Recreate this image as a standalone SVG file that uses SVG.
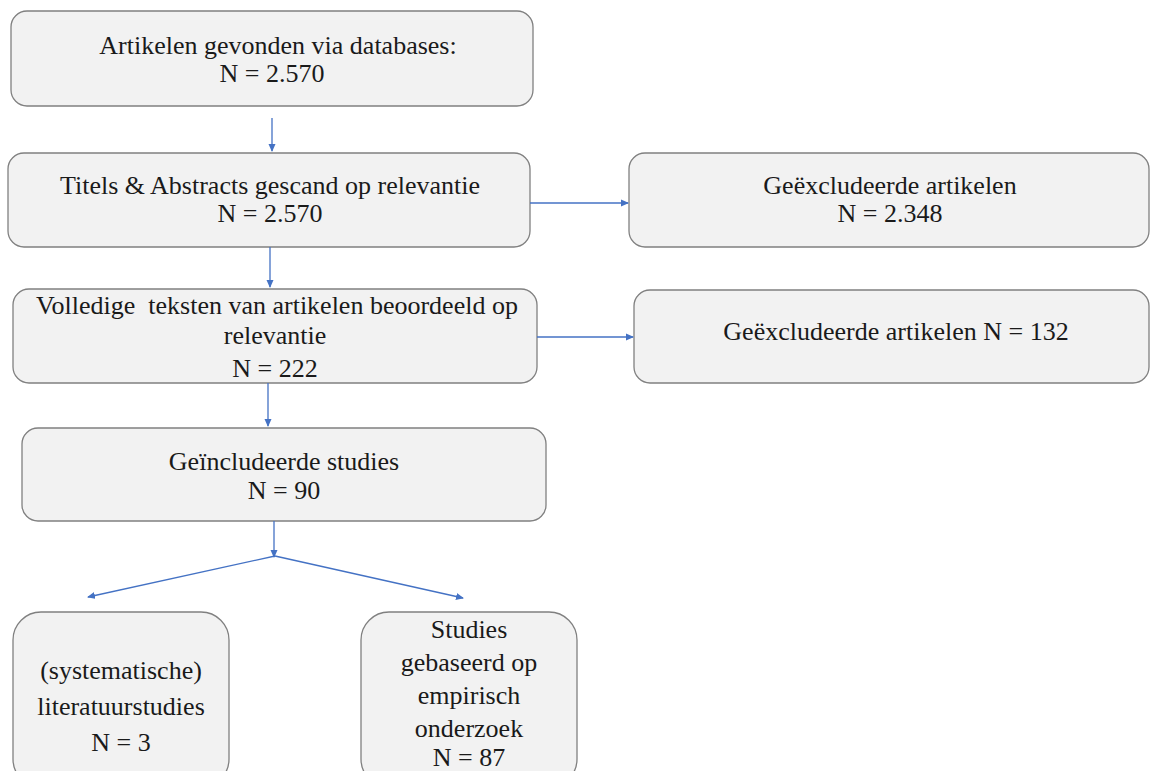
<svg xmlns="http://www.w3.org/2000/svg" width="1150" height="771" viewBox="0 0 1150 771">
<defs>
<marker id="ah" markerWidth="8" markerHeight="8" refX="7" refY="4" orient="auto" markerUnits="userSpaceOnUse">
<path d="M0,0.5 L8,4 L0,7.5 Z" fill="#4472c4"/>
</marker>
</defs>
<style>
.box{fill:#f2f2f2;stroke:#808080;stroke-width:1.3}
.t{fill:#1a1a1a;text-anchor:middle}
.c{stroke:#4472c4;stroke-width:1.3;fill:none;marker-end:url(#ah)}
</style>
<rect width="1150" height="771" fill="#ffffff"/>
<g id="n1"><rect class="box" x="11" y="11" width="522" height="95" rx="16"/>
<text class="t" style="font-family:'Liberation Serif';font-size:26px" x="278" y="54">Artikelen gevonden via databases:</text>
<text class="t" style="font-family:'Liberation Serif';font-size:26px" x="272" y="82">N = 2.570</text></g>
<g id="n2"><rect class="box" x="8" y="153" width="522" height="94" rx="16"/>
<text class="t" style="font-family:'Liberation Serif';font-size:26px" x="270" y="194">Titels &amp; Abstracts gescand op relevantie</text>
<text class="t" style="font-family:'Liberation Serif';font-size:26px" x="270" y="222">N = 2.570</text></g>
<g id="n3"><rect class="box" x="629" y="153" width="520" height="94" rx="16"/>
<text class="t" style="font-family:'Liberation Serif';font-size:26px" x="890" y="194">Geëxcludeerde artikelen</text>
<text class="t" style="font-family:'Liberation Serif';font-size:26px" x="890" y="222">N = 2.348</text></g>
<g id="n4"><rect class="box" x="13" y="289" width="524" height="94" rx="16"/>
<text class="t" style="font-family:'Liberation Serif';font-size:26px" x="277" y="314" xml:space="preserve">Volledige  teksten van artikelen beoordeeld op</text>
<text class="t" style="font-family:'Liberation Serif';font-size:26px" x="275" y="344">relevantie</text>
<text class="t" style="font-family:'Liberation Serif';font-size:26px" x="275" y="377">N = 222</text></g>
<g id="n5"><rect class="box" x="634" y="290" width="515" height="93" rx="16"/>
<text class="t" style="font-family:'Liberation Serif';font-size:26px" x="896" y="340">Geëxcludeerde artikelen N = 132</text></g>
<g id="n6"><rect class="box" x="22" y="428" width="524" height="93" rx="16"/>
<text class="t" style="font-family:'Liberation Serif';font-size:26px" x="284" y="470">Geïncludeerde studies</text>
<text class="t" style="font-family:'Liberation Serif';font-size:26px" x="284" y="499">N = 90</text></g>
<g id="n7"><rect class="box" x="13" y="612" width="216" height="175" rx="28"/>
<text class="t" style="font-family:'Liberation Serif';font-size:26px" x="121" y="679">(systematische)</text>
<text class="t" style="font-family:'Liberation Serif';font-size:26px" x="121" y="715">literatuurstudies</text>
<text class="t" style="font-family:'Liberation Serif';font-size:26px" x="121" y="751">N = 3</text></g>
<g id="n8"><rect class="box" x="361" y="612" width="216" height="175" rx="28"/>
<text class="t" style="font-family:'Liberation Serif';font-size:26px" x="469" y="638">Studies</text>
<text class="t" style="font-family:'Liberation Serif';font-size:26px" x="469" y="671">gebaseerd op</text>
<text class="t" style="font-family:'Liberation Serif';font-size:26px" x="469" y="704">empirisch</text>
<text class="t" style="font-family:'Liberation Serif';font-size:26px" x="469" y="737">onderzoek</text>
<text class="t" style="font-family:'Liberation Serif';font-size:26px" x="469" y="766">N = 87</text></g>
<g id="connectors">
<line class="c" x1="272" y1="118" x2="272" y2="151"/>
<line class="c" x1="530" y1="203" x2="628" y2="203"/>
<line class="c" x1="270" y1="247" x2="270" y2="287"/>
<line class="c" x1="537" y1="337" x2="633" y2="337"/>
<line class="c" x1="268" y1="383" x2="268" y2="426"/>
<line class="c" x1="274" y1="521" x2="274" y2="557"/>
<line class="c" x1="275" y1="556" x2="88" y2="597"/>
<line class="c" x1="275" y1="556" x2="463" y2="598"/>
</g>
</svg>
